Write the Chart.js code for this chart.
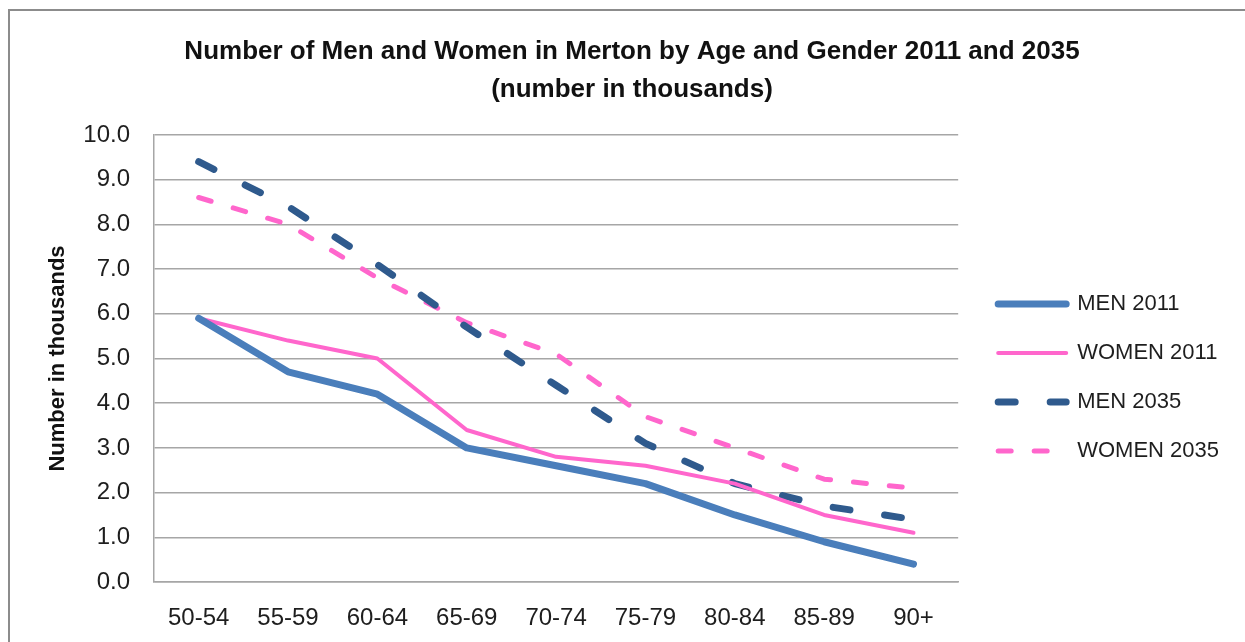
<!DOCTYPE html>
<html>
<head>
<meta charset="utf-8">
<script src="https://cdn.jsdelivr.net/npm/chart.js@4.4.0/dist/chart.umd.min.js"></script>
<style>
    html, body { margin: 0; padding: 0; background: #fff; }
    #wrap { position: relative; width: 1245px; height: 642px; overflow: hidden; }
    #frame { position: absolute; left: 8px; top: 9px; width: 1400px; height: 800px;
             border-left: 2px solid #8c8c8c; border-top: 2px solid #8c8c8c; }
    #chart { position: absolute; left: 0; top: 0; }
</style>
</head>
<body>
<div id="wrap">
    <div id="frame"></div>
    <canvas id="chart" width="1245" height="642"></canvas>
</div>
<script>
// age bands on the x axis
const ageGroups = ['50-54', '55-59', '60-64', '65-69', '70-74', '75-79', '80-84', '85-89', '90+'];

// number in thousands
const men2011 = [5.9, 4.7, 4.2, 3.0, 2.6, 2.2, 1.5, 0.9, 0.4];
const women2011 = [5.9, 5.4, 5.0, 3.4, 2.8, 2.6, 2.2, 1.5, 1.1];
const men2035 = [9.4, 8.4, 7.1, 5.7, 4.4, 3.1, 2.2, 1.7, 1.4];
const women2035 = [8.6, 8.0, 6.8, 5.8, 5.1, 3.7, 3.0, 2.3, 2.1];

const yMin = 0;
const yMax = 10;
const yStep = 1;

Chart.defaults.font.family = "'Liberation Sans', Arial, sans-serif";
Chart.defaults.color = '#1e1e1e';

const gridColor = '#a6a6a6';

function lineSet(label, values, color, width, dash) {
    return {
        label: label,
        data: values,
        borderColor: color,
        backgroundColor: color,
        borderWidth: width,
        borderDash: dash,
        borderCapStyle: 'round',
        borderJoinStyle: 'round',
        pointRadius: 0,
        pointHoverRadius: 0,
        tension: 0,
        fill: false
    };
}

const data = {
    labels: ageGroups,
    datasets: [
        lineSet('MEN 2011', men2011, '#4a7ebb', 7, []),
        lineSet('WOMEN 2011', women2011, '#ff66cc', 4, []),
        lineSet('MEN 2035', men2035, '#2f5a8d', 7, [17, 35]),
        lineSet('WOMEN 2035', women2035, '#ff66cc', 5, [13, 23])
    ]
};

// legend entries drawn as line samples with the dataset's own dash
function legendLines(chart) {
    return chart.data.datasets.map(function (ds, i) {
        return {
            text: ds.label,
            strokeStyle: ds.borderColor,
            fillStyle: ds.borderColor,
            lineWidth: ds.borderWidth,
            lineDash: ds.borderDash,
            lineCap: 'round',
            pointStyle: 'line',
            fontColor: '#1e1e1e',
            hidden: false,
            datasetIndex: i
        };
    });
}

const config = {
    type: 'line',
    data: data,
    options: {
        responsive: false,
        animation: false,
        layout: { padding: { left: 35, right: 16, top: 0, bottom: 0 } },
        plugins: {
            title: {
                display: true,
                text: ['Number of Men and Women in Merton by Age and Gender 2011 and 2035', '(number in thousands)'],
                font: { size: 26, weight: 'bold', lineHeight: 1.46 },
                color: '#111',
                padding: { top: 33, bottom: 26 }
            },
            legend: {
                position: 'right',
                fullSize: false,
                title: { display: true, text: '', font: { size: 1, lineHeight: 1 }, padding: { top: 37, bottom: 0 } },
                labels: {
                    usePointStyle: true,
                    pointStyle: 'line',
                    pointStyleWidth: 68,
                    padding: 27,
                    font: { size: 22 },
                    color: '#1e1e1e',
                    generateLabels: legendLines
                }
            },
            tooltip: { enabled: false }
        },
        scales: {
            x: {
                offset: true,
                grid: { display: false, drawTicks: false },
                border: { display: true, color: gridColor, width: 1.5 },
                ticks: { font: { size: 24 }, padding: 22, maxRotation: 0, autoSkip: false },
                afterFit: function (scale) { scale.height = 60; }
            },
            y: {
                min: yMin,
                max: yMax,
                grid: { color: gridColor, lineWidth: 1.5, drawTicks: false },
                border: { display: true, color: gridColor, width: 1.5 },
                ticks: {
                    stepSize: yStep,
                    font: { size: 24 },
                    padding: 24,
                    callback: function (v) { return v.toFixed(1); }
                },
                title: {
                    display: true,
                    text: 'Number in thousands',
                    font: { size: 22, weight: 'bold' },
                    color: '#111',
                    padding: { top: 10, bottom: 0 }
                },
                afterFit: function (scale) { scale.width = 119; }
            },
            // empty strip between plot and legend
            gap: {
                type: 'linear',
                position: 'right',
                display: false,
                afterFit: function (scale) { scale.width = 13; }
            }
        }
    }
};

let ctx = document.getElementById('chart').getContext('2d');
new Chart(ctx, config);
</script>
</body>
</html>
